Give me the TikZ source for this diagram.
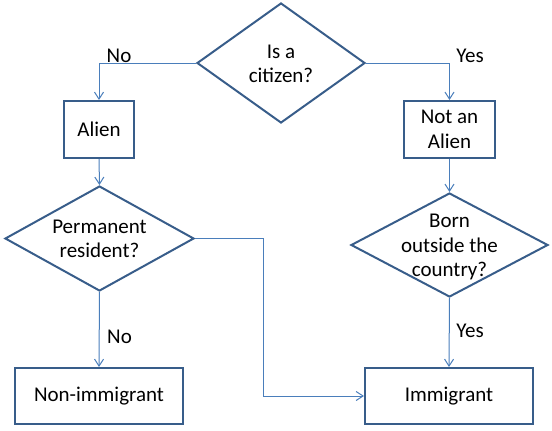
\documentclass[tikz,border=0pt]{standalone}
\usepackage{fontspec}
\setmainfont{Carlito}
\usetikzlibrary{shapes.geometric, arrows.meta}
\definecolor{boxblue}{HTML}{385D8A}
\definecolor{lineblue}{HTML}{4A7EBB}

\begin{document}
\begin{tikzpicture}[x=1pt, y=-1pt,
		box/.style={draw=boxblue, line width=2pt, rectangle, inner sep=0pt, align=center, font=\fontsize{21}{24.5}\selectfont},
		decision/.style={draw=boxblue, line width=2pt, diamond, inner sep=0pt},
		txt/.style={align=center, inner sep=0pt, font=\fontsize{21}{24.5}\selectfont},
		conn/.style={draw=lineblue, line width=1pt, -{Straight Barb[length=7pt, width=9pt]}}]
				\useasboundingbox (0, 0) rectangle (552, 431);
				% decisions
				\node[decision, minimum width=168, minimum height=120] (Cit)at(281, 63) {};
				\node[txt] (CitT)at(281, 64) {Is a\\citizen?};
				\node[decision, minimum width=189, minimum height=105] (Perm)at(99.5, 238.5) {};
				\node[txt] (PermT)at(99.5, 239) {Permanent\\resident?};
				\node[decision, minimum width=197, minimum height=104] (Born)at(449.5, 245) {};
				\node[txt] (BornT)at(449.5, 247) {Born\\outside the\\country?};
				% boxes
				\node[box, minimum width=70, minimum height=57] (Alien)at(99, 129.5) {Alien};
				\node[box, minimum width=91, minimum height=57] (NotAlien)at(449.5, 129.5) {Not an\\Alien};
				\node[box, minimum width=168, minimum height=56] (NonImm)at(99, 396) {Non-immigrant};
				\node[box, minimum width=168, minimum height=56] (Imm)at(449, 396) {Immigrant};
				\coordinate (Bend)at(263, 396);
				% connectors
				\draw[conn] (Cit.west) -| (Alien.north);
				\draw[conn] (Cit.east) -| (NotAlien.north);
				\draw[conn] (Alien.south) -- (Perm.north);
				\draw[conn] (NotAlien.south) -- (Born.north);
				\draw[conn] (Perm.south) -- (NonImm.north);
				\draw[conn] (Born.south) -- (Imm.north);
				\draw[conn] (Perm.east) -| (Bend) -- (Imm.west);
				% answers
				\node[txt, anchor=base] (NoA)at(119, 62) {No};
				\node[txt, anchor=base] (YesA)at(470, 62) {Yes};
				\node[txt, anchor=base] (NoB)at(119.5, 343) {No};
				\node[txt, anchor=base] (YesB)at(470, 337) {Yes};
			\end{tikzpicture}
\end{document}
